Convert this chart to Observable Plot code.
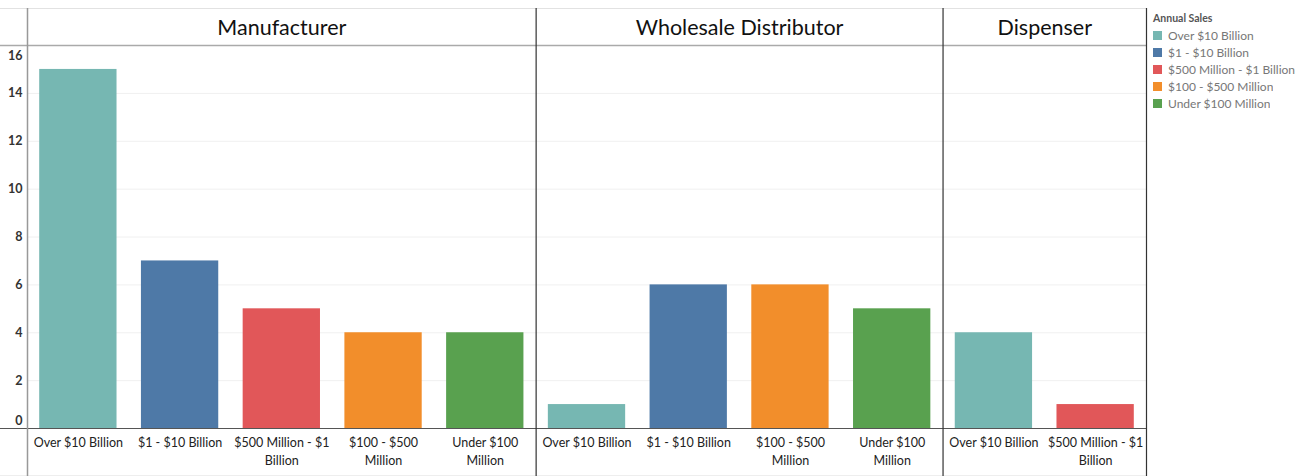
<!DOCTYPE html>
<html>
<head>
<meta charset="utf-8">
<script src="https://cdn.jsdelivr.net/npm/d3@7"></script>
<script src="https://cdn.jsdelivr.net/npm/@observablehq/plot@0.6"></script>
<style>
  html, body { margin: 0; padding: 0; background: #fff; }
  #wrap { position: relative; width: 1307px; height: 476px; font-family: Lato, "Open Sans", sans-serif; }
  #legend { position: absolute; left: 1153px; top: 12px; }
  #legend .title { font-size: 10.5px; font-weight: bold; color: #555; margin-bottom: 3px; }
  #legend div[class$="-swatch"] { height: 17px; padding-bottom: 0 !important; }
</style>
</head>
<body>
<div id="wrap"><div id="legend"><div class="title">Annual Sales</div></div></div>
<script>
// ---- data ----
const groupNames = ["Manufacturer", "Wholesale Distributor", "Dispenser"];
const manufacturerClasses = ["Over $10 Billion", "$1 - $10 Billion", "$500 Million - $1 Billion", "$100 - $500 Million", "Under $100 Million"];
const manufacturerCounts = [15, 7, 5, 4, 4];
const wholesaleClasses = ["Over $10 Billion", "$1 - $10 Billion", "$100 - $500 Million", "Under $100 Million"];
const wholesaleCounts = [1, 6, 6, 5];
const dispenserClasses = ["Over $10 Billion", "$500 Million - $1 Billion"];
const dispenserCounts = [4, 1];

const salesClasses = ["Over $10 Billion", "$1 - $10 Billion", "$500 Million - $1 Billion", "$100 - $500 Million", "Under $100 Million"];
const salesTickLabels = ["Over $10 Billion", "$1 - $10 Billion", "$500 Million - $1\nBillion", "$100 - $500\nMillion", "Under $100\nMillion"];
const salesColors = ["#76B7B2", "#4E79A7", "#E15759", "#F28E2B", "#59A14F"];
const yTicks = [0, 2, 4, 6, 8, 10, 12, 14, 16];

// ---- build tables ----
const groupClasses = [manufacturerClasses, wholesaleClasses, dispenserClasses];
const groupCounts = [manufacturerCounts, wholesaleCounts, dispenserCounts];
const rows = [];
const groups = [];
let idx = 0;
groupNames.forEach((g, gi) => {
  const start = idx;
  groupClasses[gi].forEach((c, j) => {
    rows.push({group: g, sales: c, count: groupCounts[gi][j], i: idx});
    idx++;
  });
  groups.push({group: g, start, end: idx, mid: (start + idx) / 2});
});
const total = idx;
const labelOf = c => salesTickLabels[salesClasses.indexOf(c)];
const tickPositions = rows.map(r => r.i + 0.5);
const tickText = new Map(rows.map(r => [r.i + 0.5, labelOf(r.sales)]));
const boundaries = [0, ...groups.map(g => g.end)];

const pad = 0.12;
const axisStyle = {tickSize: 0, tickPadding: 5, fontSize: 12.5, fontWeight: "bold", fill: "#333", label: null};
const plot = Plot.plot({
  width: 1307,
  height: 476,
  marginLeft: 27,
  marginRight: 161,
  marginTop: 45,
  marginBottom: 48,
  style: {fontFamily: "Lato, 'Open Sans', sans-serif", background: "#fff"},
  x: {domain: [0, total], axis: null},
  y: {domain: [0, 16], axis: null},
  color: {domain: salesClasses, range: salesColors},
  marks: [
    Plot.gridY(yTicks.filter(t => t > 0 && t < 16), {stroke: "#f0f0f0", strokeOpacity: 1}),
    Plot.rectY(rows, {x1: d => d.i + pad, x2: d => d.i + 1 - pad, y: "count", fill: "sales"}),
    // y axis labels
    Plot.axisY(yTicks.filter(t => t > 0 && t < 16), axisStyle),
    Plot.axisY([0], {...axisStyle, dy: -8}),
    Plot.axisY([16], {...axisStyle, dy: 10}),
    // x axis labels
    Plot.axisX(tickPositions, {tickSize: 0, tickPadding: 6, tickFormat: d => tickText.get(d), fontSize: 12.5, fill: "#222", lineHeight: 1.45, label: null}),
    // header titles
    Plot.text(groups, {x: "mid", y: () => 16, text: "group", dy: -17, fontSize: 21.5, fill: "#111", lineAnchor: "middle"}),
    // horizontal frame lines
    Plot.ruleY([16], {stroke: "#e2e2e2", insetLeft: -27, dy: -37}),
    Plot.ruleY([16], {stroke: "#aaa", strokeWidth: 1.5, insetLeft: -27}),
    Plot.ruleY([0], {stroke: "#555", strokeWidth: 1.2, insetLeft: -27}),
    Plot.ruleY([0], {stroke: "#eee", insetLeft: -27, dy: 47}),
    // vertical separators
    Plot.ruleX(boundaries, {stroke: d => d === 0 ? "#999" : "#333", strokeWidth: d => d === 0 ? 1.5 : 1.2, insetTop: -37, insetBottom: -48})
  ]
});
document.getElementById("wrap").prepend(plot);

const legend = Plot.legend({
  color: {domain: salesClasses, range: salesColors},
  legend: "swatches",
  columns: 1,
  swatchSize: 9,
  style: {fontFamily: "Lato, 'Open Sans', sans-serif", fontSize: "12px", color: "#777"}
});
document.getElementById("legend").appendChild(legend);
</script>
</body>
</html>
